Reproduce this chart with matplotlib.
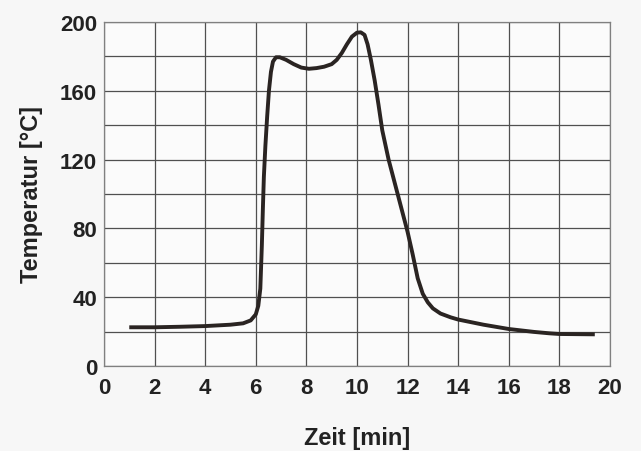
import matplotlib.pyplot as plt

plt.rcParams['font.family'] = ['Liberation Sans', 'DejaVu Sans']

zeit = [1.0, 2.0, 3.0, 4.0, 5.0, 5.5, 5.8, 6.0, 6.1, 6.18, 6.24, 6.28, 6.32, 6.38,
        6.45, 6.52, 6.6, 6.68, 6.8, 6.95, 7.2, 7.5, 7.8, 8.1, 8.4, 8.7, 9.0, 9.2,
        9.4, 9.6, 9.8, 10.0, 10.15, 10.3, 10.42, 10.55, 10.7, 10.85, 11.0, 11.25,
        11.5, 11.75, 12.0, 12.2, 12.4, 12.6, 12.8, 13.0, 13.3, 13.7, 14.0, 15.0,
        16.0, 17.0, 17.6, 18.0, 19.4]
temperatur = [22.5, 22.5, 22.8, 23.2, 24.0, 24.8, 26.5, 30.0, 35.0, 45.0, 70.0, 91.0,
              110.0, 128.0, 145.0, 160.0, 171.0, 177.0, 179.5, 179.5, 178.0, 175.5,
              173.5, 172.8, 173.2, 174.0, 175.5, 178.0, 182.0, 187.0, 191.5, 193.8,
              194.0, 192.5, 187.0, 178.0, 166.0, 152.0, 137.0, 120.0, 106.0, 92.0,
              78.0, 65.0, 51.0, 42.0, 37.0, 33.5, 30.5, 28.3, 27.0, 24.0, 21.5, 19.8,
              19.0, 18.6, 18.4]

x_ticks = list(range(0, 21, 2))
y_ticks = [0, 40, 80, 120, 160, 200]
y_grid = list(range(0, 201, 20))

fig = plt.figure(figsize=(6.41, 4.52), dpi=100, facecolor='#f7f7f7')
ax = fig.add_axes([0.1622, 0.1881, 0.7894, 0.761])
ax.set_facecolor('#fbfbfb')

ax.plot(zeit, temperatur, color='#2a2422', lw=2.8, solid_joinstyle='round',
        solid_capstyle='butt', zorder=3)

ax.set_xlim(0, 20)
ax.set_ylim(0, 200)
ax.set_xticks(x_ticks)
ax.set_yticks(y_ticks)
ax.set_yticks(y_grid, minor=True)
ax.grid(True, which='both', color='#505050', lw=0.9)
ax.tick_params(which='both', length=0)
ax.tick_params(axis='y', labelsize=16, colors='#222222', pad=5)
ax.tick_params(axis='x', labelsize=16, colors='#222222', pad=8)
for lab in ax.get_xticklabels() + ax.get_yticklabels():
    lab.set_fontweight('bold')
for s in ax.spines.values():
    s.set_color('#808080')
    s.set_linewidth(0.9)

ax.set_xlabel('Zeit [min]', fontsize=17, fontweight='bold', color='#222222', labelpad=20)
ax.set_ylabel('Temperatur [°C]', fontsize=17, fontweight='bold', color='#222222', labelpad=12)

fig.savefig('out.png', dpi=100, facecolor=fig.get_facecolor())
